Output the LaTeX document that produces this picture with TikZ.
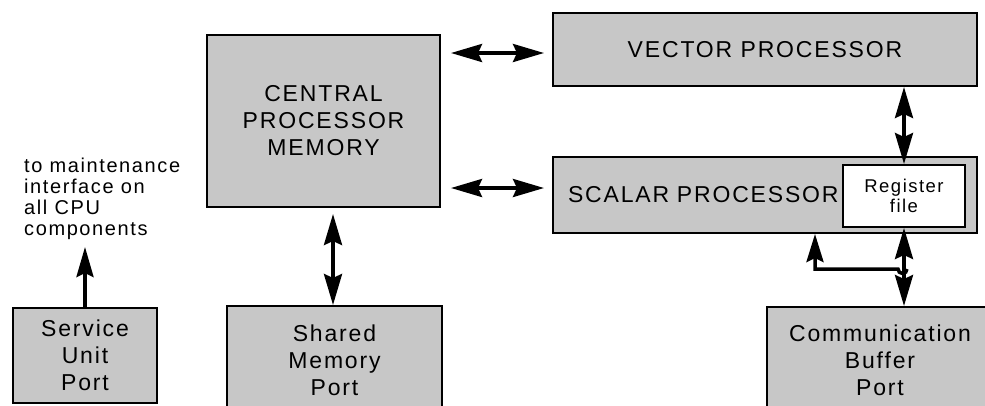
\documentclass[tikz,border=0pt]{standalone}
\usepackage{fontspec}
\setmainfont{Liberation Sans}[LetterSpace=8]
\usetikzlibrary{arrows.meta}
\begin{document}
\begin{tikzpicture}[x=1pt,y=-1pt,
  box/.style={draw=black, line width=2pt, fill=black!22, rectangle, inner sep=0pt, align=center,
    font=\fontsize{23}{27}\selectfont},
  whitebox/.style={draw=black, line width=2pt, fill=white, rectangle, inner sep=0pt, align=center,
    font=\fontsize{18.5}{19.5}\selectfont},
  dbl/.style={line width=3.5pt, {Stealth[length=31pt,width=18pt,inset=4pt]}-{Stealth[length=31pt,width=18pt,inset=4pt]}},
  sgl/.style={line width=3.5pt},
  note/.style={align=left, inner sep=0pt, font=\fontsize{20}{21}\selectfont}
]
\useasboundingbox (0,0) rectangle (985,405);
\clip (0,0) rectangle (985,405);
\fill[white] (0,0) rectangle (985,405);

% boxes
\node[box, minimum width=233pt, minimum height=172pt] (cpm) at (323.5,121) {CENTRAL\\PROCESSOR\\MEMORY};
\node[box, minimum width=424pt, minimum height=73pt] (vec) at (765,49.5) {VECTOR PROCESSOR};
\node[box, minimum width=424pt, minimum height=76pt, text width=394pt, inner xsep=15pt, align=left] (sca) at (765,195) {SCALAR PROCESSOR};
\node[whitebox, minimum width=122pt, minimum height=62pt] (reg) at (904,196) {Register\\file};
\node[box, minimum width=144pt, minimum height=95pt] (svc) at (85,355.5) {Service\\Unit\\Port};
\node[box, minimum width=215pt, minimum height=108pt] (shm) at (334.5,360) {Shared\\Memory\\Port};
\node[box, minimum width=226pt, minimum height=106pt] (com) at (880,360) {Communication\\Buffer\\Port};

% note text
\node[note, anchor=north west] (maint) at (24,158) {to maintenance\\interface on\\all CPU\\components};

% helper coordinates
\coordinate (h1) at (0,53);
\coordinate (h2) at (0,188);
\coordinate (v1) at (333,0);
\coordinate (lp) at (815,269);
\coordinate (hop) at (898,269);
\coordinate (stip) at (85,247);

% connectors
\draw[dbl, shorten <=10pt, shorten >=8pt] (cpm.east |- h1) -- (vec.west |- h1);
\draw[dbl, shorten <=10pt, shorten >=8pt] (cpm.east |- h2) -- (sca.west |- h2);
\draw[dbl, shorten <=6pt] (cpm.south -| v1) -- (shm.north -| v1);
\draw[dbl] (vec.south -| reg.north) -- (reg.north);
\draw[dbl] (reg.south) -- (com.north -| reg.south);
\draw[sgl, {Stealth[length=28pt,width=17pt,inset=4pt]}-] (sca.south -| lp) -- (lp) -- (hop) arc[start angle=180, end angle=360, radius=4.5pt];
\draw[sgl, -{Stealth[length=30pt,width=17pt,inset=4pt]}] (svc.north) -- (stip);
\end{tikzpicture}
\end{document}
